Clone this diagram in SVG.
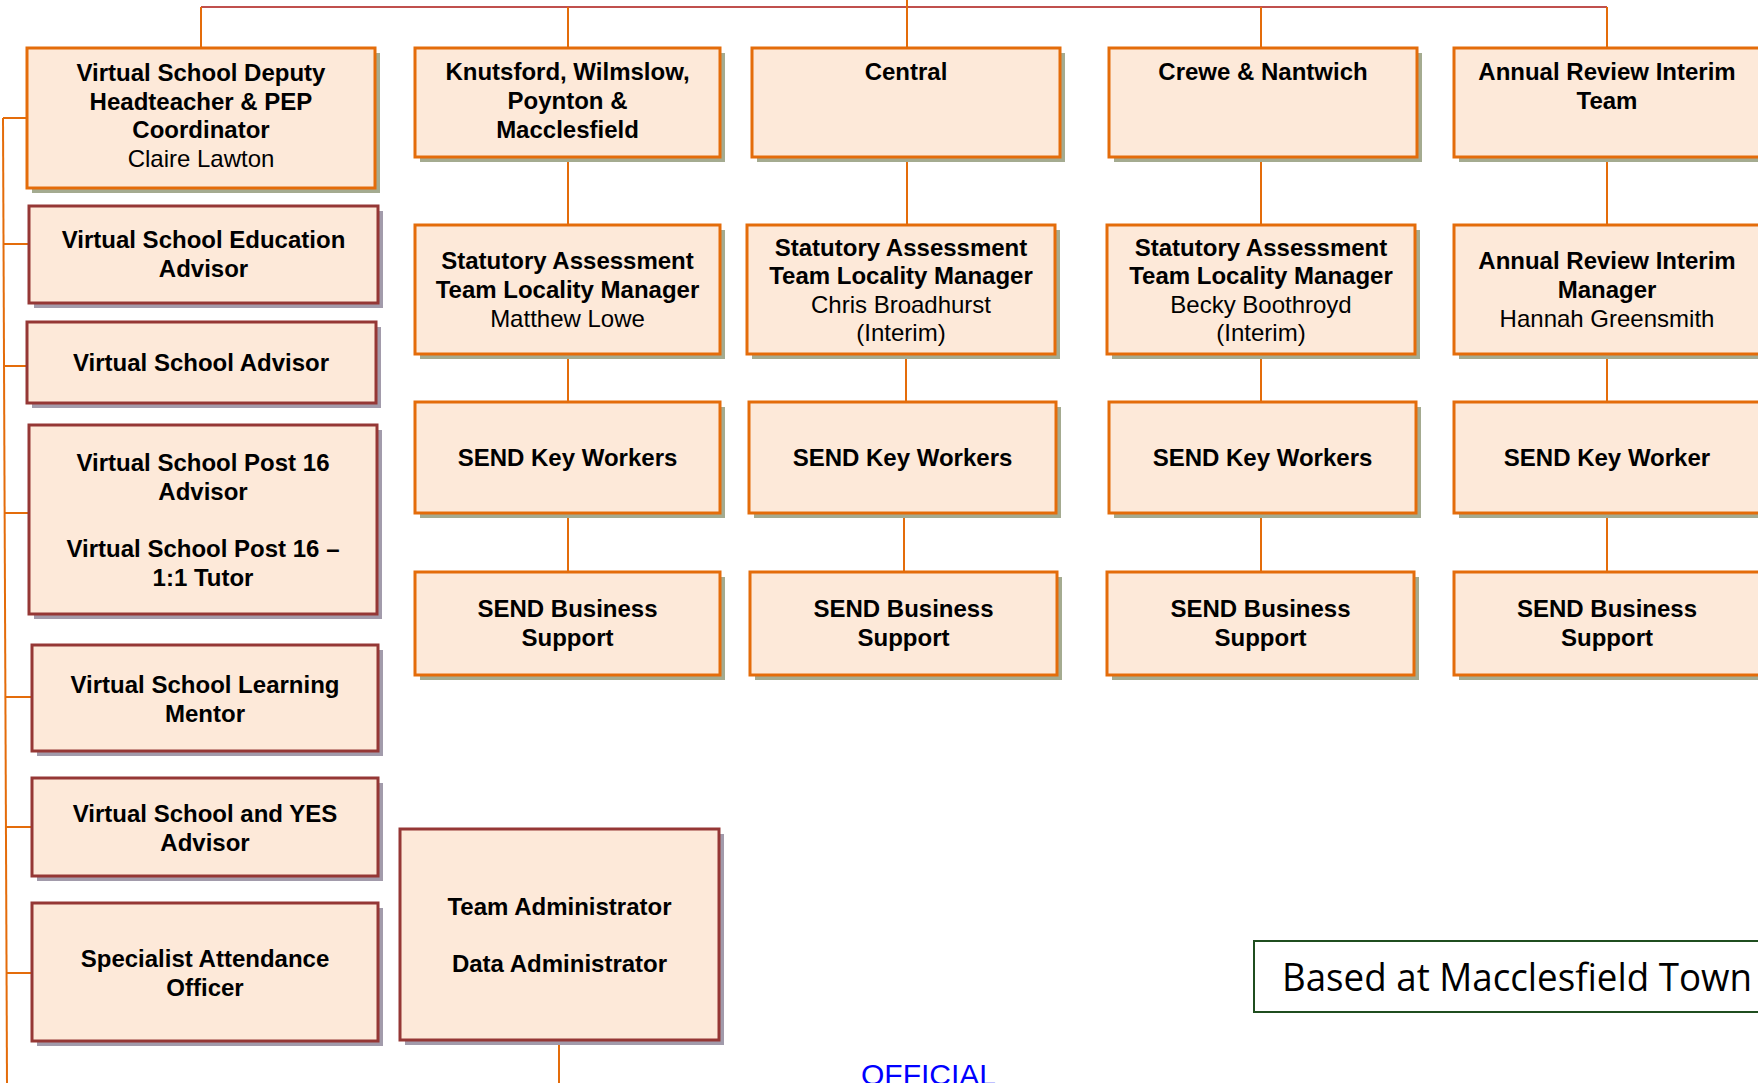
<svg xmlns="http://www.w3.org/2000/svg" width="1758" height="1083" viewBox="0 0 1758 1083">
<style>
.bo{fill:#fde9d9;stroke:#e46c0a;stroke-width:3}
.br{fill:#fde9d9;stroke:#953735;stroke-width:3}
.so{fill:#a4ab90}
.sr{fill:#a29bab}
.t{font-family:"Liberation Sans",Arial,sans-serif;font-size:24px;font-weight:bold;fill:#000;text-anchor:middle}
.n{font-weight:normal}
.c{fill:none;stroke:#e46c0a;stroke-width:2}
.top{fill:none;stroke:#c0504d;stroke-width:2}
</style>
<rect width="1758" height="1083" fill="#fff"/>
<g id="connectors">
<line class="top" x1="201" y1="7" x2="1607" y2="7"/>
<polyline class="c" points="201,48 201,7"/>
<line class="c" x1="568" y1="7" x2="568" y2="48"/>
<line class="c" x1="907" y1="0" x2="907" y2="48"/>
<line class="c" x1="1261" y1="7" x2="1261" y2="48"/>
<line class="c" x1="1607" y1="7" x2="1607" y2="48"/>
<line class="c" x1="568" y1="157" x2="568" y2="225"/>
<line class="c" x1="568" y1="354" x2="568" y2="402"/>
<line class="c" x1="568" y1="513" x2="568" y2="572"/>
<line class="c" x1="907" y1="157" x2="907" y2="225"/>
<line class="c" x1="906" y1="354" x2="906" y2="402"/>
<line class="c" x1="904" y1="513" x2="904" y2="572"/>
<line class="c" x1="1261" y1="157" x2="1261" y2="225"/>
<line class="c" x1="1261" y1="354" x2="1261" y2="402"/>
<line class="c" x1="1261" y1="513" x2="1261" y2="572"/>
<line class="c" x1="1607" y1="157" x2="1607" y2="225"/>
<line class="c" x1="1607" y1="354" x2="1607" y2="402"/>
<line class="c" x1="1607" y1="513" x2="1607" y2="572"/>
<line class="c" x1="3" y1="118" x2="7" y2="1083"/>
<line class="c" x1="3" y1="118" x2="27" y2="118"/>
<line class="c" x1="4" y1="244" x2="29" y2="244"/>
<line class="c" x1="4" y1="366" x2="27" y2="366"/>
<line class="c" x1="5" y1="513" x2="29" y2="513"/>
<line class="c" x1="5" y1="697" x2="32" y2="697"/>
<line class="c" x1="6" y1="827" x2="32" y2="827"/>
<line class="c" x1="6" y1="973" x2="32" y2="973"/>
<line class="c" x1="559" y1="1040" x2="559" y2="1083"/>
</g>
<g id="deputy">
<rect class="so" x="32" y="53" width="348" height="140"/>
<rect class="bo" x="27" y="48" width="348" height="140"/>
<text class="t" x="201" y="81">Virtual School Deputy</text>
<text class="t" x="201" y="109.5">Headteacher &amp; PEP</text>
<text class="t" x="201" y="138">Coordinator</text>
<text class="t n" x="201" y="167">Claire Lawton</text>
</g>
<g id="education-advisor">
<rect class="sr" x="34" y="211" width="349" height="97"/>
<rect class="br" x="29" y="206" width="349" height="97"/>
<text class="t" x="203.5" y="248">Virtual School Education</text>
<text class="t" x="203.5" y="277">Advisor</text>
</g>
<g id="vs-advisor">
<rect class="sr" x="32" y="327" width="349" height="81"/>
<rect class="br" x="27" y="322" width="349" height="81"/>
<text class="t" x="201" y="371">Virtual School Advisor</text>
</g>
<g id="post16">
<rect class="sr" x="34" y="430" width="348" height="189"/>
<rect class="br" x="29" y="425" width="348" height="189"/>
<text class="t" x="203" y="471">Virtual School Post 16</text>
<text class="t" x="203" y="500">Advisor</text>
<text class="t" x="203" y="557">Virtual School Post 16 –</text>
<text class="t" x="203" y="586">1:1 Tutor</text>
</g>
<g id="learning-mentor">
<rect class="sr" x="37" y="650" width="346" height="106"/>
<rect class="br" x="32" y="645" width="346" height="106"/>
<text class="t" x="205" y="693">Virtual School Learning</text>
<text class="t" x="205" y="722">Mentor</text>
</g>
<g id="yes-advisor">
<rect class="sr" x="37" y="783" width="346" height="98"/>
<rect class="br" x="32" y="778" width="346" height="98"/>
<text class="t" x="205" y="822">Virtual School and YES</text>
<text class="t" x="205" y="851">Advisor</text>
</g>
<g id="attendance">
<rect class="sr" x="37" y="908" width="346" height="138"/>
<rect class="br" x="32" y="903" width="346" height="138"/>
<text class="t" x="205" y="967">Specialist Attendance</text>
<text class="t" x="205" y="996">Officer</text>
</g>
<g id="knutsford">
<rect class="so" x="420" y="53" width="305" height="109"/>
<rect class="bo" x="415" y="48" width="305" height="109"/>
<text class="t" x="567.5" y="80">Knutsford, Wilmslow,</text>
<text class="t" x="567.5" y="109">Poynton &amp;</text>
<text class="t" x="567.5" y="138">Macclesfield</text>
</g>
<g id="central">
<rect class="so" x="757" y="53" width="308" height="109"/>
<rect class="bo" x="752" y="48" width="308" height="109"/>
<text class="t" x="906" y="80">Central</text>
</g>
<g id="crewe">
<rect class="so" x="1114" y="53" width="308" height="109"/>
<rect class="bo" x="1109" y="48" width="308" height="109"/>
<text class="t" x="1263" y="80">Crewe &amp; Nantwich</text>
</g>
<g id="ar-team">
<rect class="so" x="1459" y="53" width="308" height="109"/>
<rect class="bo" x="1454" y="48" width="308" height="109"/>
<text class="t" x="1607" y="80">Annual Review Interim</text>
<text class="t" x="1607" y="109">Team</text>
</g>
<g id="sat-knutsford">
<rect class="so" x="420" y="230" width="305" height="129"/>
<rect class="bo" x="415" y="225" width="305" height="129"/>
<text class="t" x="567.5" y="269">Statutory Assessment</text>
<text class="t" x="567.5" y="298">Team Locality Manager</text>
<text class="t n" x="567.5" y="327">Matthew Lowe</text>
</g>
<g id="sat-central">
<rect class="so" x="752" y="230" width="308" height="129"/>
<rect class="bo" x="747" y="225" width="308" height="129"/>
<text class="t" x="901" y="256">Statutory Assessment</text>
<text class="t" x="901" y="284">Team Locality Manager</text>
<text class="t n" x="901" y="313">Chris Broadhurst</text>
<text class="t n" x="901" y="341">(Interim)</text>
</g>
<g id="sat-crewe">
<rect class="so" x="1112" y="230" width="308" height="129"/>
<rect class="bo" x="1107" y="225" width="308" height="129"/>
<text class="t" x="1261" y="256">Statutory Assessment</text>
<text class="t" x="1261" y="284">Team Locality Manager</text>
<text class="t n" x="1261" y="313">Becky Boothroyd</text>
<text class="t n" x="1261" y="341">(Interim)</text>
</g>
<g id="ar-manager">
<rect class="so" x="1459" y="230" width="308" height="129"/>
<rect class="bo" x="1454" y="225" width="308" height="129"/>
<text class="t" x="1607" y="269">Annual Review Interim</text>
<text class="t" x="1607" y="298">Manager</text>
<text class="t n" x="1607" y="327">Hannah Greensmith</text>
</g>
<g id="kw-knutsford">
<rect class="so" x="420" y="407" width="305" height="111"/>
<rect class="bo" x="415" y="402" width="305" height="111"/>
<text class="t" x="567.5" y="466">SEND Key Workers</text>
</g>
<g id="kw-central">
<rect class="so" x="754" y="407" width="307" height="111"/>
<rect class="bo" x="749" y="402" width="307" height="111"/>
<text class="t" x="902.5" y="466">SEND Key Workers</text>
</g>
<g id="kw-crewe">
<rect class="so" x="1114" y="407" width="307" height="111"/>
<rect class="bo" x="1109" y="402" width="307" height="111"/>
<text class="t" x="1262.5" y="466">SEND Key Workers</text>
</g>
<g id="kw-ar">
<rect class="so" x="1459" y="407" width="308" height="111"/>
<rect class="bo" x="1454" y="402" width="308" height="111"/>
<text class="t" x="1607" y="466">SEND Key Worker</text>
</g>
<g id="bs-knutsford">
<rect class="so" x="420" y="577" width="305" height="103"/>
<rect class="bo" x="415" y="572" width="305" height="103"/>
<text class="t" x="567.5" y="617">SEND Business</text>
<text class="t" x="567.5" y="646">Support</text>
</g>
<g id="bs-central">
<rect class="so" x="755" y="577" width="307" height="103"/>
<rect class="bo" x="750" y="572" width="307" height="103"/>
<text class="t" x="903.5" y="617">SEND Business</text>
<text class="t" x="903.5" y="646">Support</text>
</g>
<g id="bs-crewe">
<rect class="so" x="1112" y="577" width="307" height="103"/>
<rect class="bo" x="1107" y="572" width="307" height="103"/>
<text class="t" x="1260.5" y="617">SEND Business</text>
<text class="t" x="1260.5" y="646">Support</text>
</g>
<g id="bs-ar">
<rect class="so" x="1459" y="577" width="308" height="103"/>
<rect class="bo" x="1454" y="572" width="308" height="103"/>
<text class="t" x="1607" y="617">SEND Business</text>
<text class="t" x="1607" y="646">Support</text>
</g>
<g id="team-admin">
<rect class="sr" x="405" y="834" width="319" height="211"/>
<rect class="br" x="400" y="829" width="319" height="211"/>
<text class="t" x="559.5" y="915">Team Administrator</text>
<text class="t" x="559.5" y="972">Data Administrator</text>
</g>
<g id="based-at">
<rect x="1254" y="941" width="520" height="71" fill="#fff" stroke="#1f4e1f" stroke-width="2"/>
<text x="1282" y="991" font-family="'Open Sans','Noto Sans',sans-serif" font-size="38" fill="#000" textLength="470" lengthAdjust="spacingAndGlyphs">Based at Macclesfield Town</text>
</g>
<text x="861" y="1085" font-family="'Liberation Sans',Arial,sans-serif" font-size="30" fill="#0000ff">OFFICIAL</text>
</svg>
